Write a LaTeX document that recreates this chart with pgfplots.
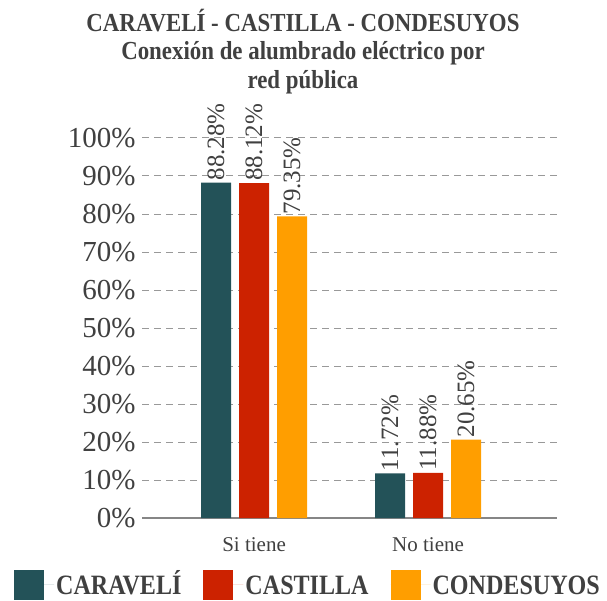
\documentclass[border=0pt]{standalone}
\usepackage{fontspec}
\setmainfont{Liberation Serif}
\newfontfamily\boldfont[FakeStretch=0.86]{Liberation Serif}
\newfontfamily\titlefont[FakeStretch=0.88]{Liberation Serif}
\usepackage{pgfplots}
\pgfplotsset{compat=1.18}

\definecolor{cteal}{RGB}{35,82,88}
\definecolor{cred}{RGB}{204,34,0}
\definecolor{corange}{RGB}{255,158,0}
\definecolor{ctxt}{RGB}{64,64,64}

\begin{document}
\begin{tikzpicture}
\path[use as bounding box] (0pt,0pt) rectangle (607pt,600pt);
\tikzset{ttl/.style={font=\titlefont\bfseries\fontsize{26}{26}\selectfont, text=ctxt, anchor=base, inner sep=0pt}}
\node[ttl] at (303pt,568pt) {CARAVELÍ - CASTILLA - CONDESUYOS};
\node[ttl] at (303pt,540pt) {Conexión de alumbrado eléctrico por};
\node[ttl] at (303pt,511pt) {red pública};
\begin{axis}[
    at={(142pt,82pt)}, anchor=south west,
    width=415pt, height=380pt, scale only axis,
    ybar=8pt, bar width=30pt,
    xmin=-0.644, xmax=1.741,
    ymin=0, ymax=100,
    ytick={0,10,...,100},
    yticklabel={\pgfmathprintnumber{\tick}\%},
    /pgf/number format/assume math mode=true,
    xtick={0,1},
    xticklabels={Si tiene, No tiene},
    axis x line=bottom, axis y line=left,
    y axis line style={draw=none},
    x axis line style={-, draw=gray!95, line width=1.8pt},
    major tick length=0pt,
    ymajorgrids,
    grid style={gray!80, line width=1pt, dash pattern=on 7pt off 5pt},
    yticklabel style={font=\fontsize{29}{29}\selectfont, text=ctxt, xshift=-3pt},
    xticklabel style={font=\fontsize{21}{21}\selectfont, text=ctxt, yshift=-16pt},
    clip=false,
    nodes near coords={\pgfmathprintnumber[fixed, fixed zerofill, precision=2]{\pgfplotspointmeta}\%},
    nodes near coords style={rotate=90, anchor=west, font=\fontsize{25}{25}\selectfont, text=ctxt, inner sep=2pt},
    legend columns=3,
    legend style={draw=none, fill=none, at={(0.4,-0.176)}, anchor=center,
        font=\boldfont\bfseries\fontsize{28}{28}\selectfont, text=ctxt,
        nodes={text height=19pt, text depth=0pt},
        /tikz/every even column/.append style={column sep=20pt}},
    legend image code/.code={\fill[#1] (0pt,-15pt) rectangle (30pt,15pt); \path (0pt,0pt) -- (40pt,0pt);},
]
\addplot[fill=cteal, draw=none] coordinates {(0,88.28) (1,11.72)};
\addplot[fill=cred, draw=none] coordinates {(0,88.12) (1,11.88)};
\addplot[fill=corange, draw=none] coordinates {(0,79.35) (1,20.65)};
\legend{CARAVELÍ, CASTILLA, CONDESUYOS}
\end{axis}
\end{tikzpicture}
\end{document}
